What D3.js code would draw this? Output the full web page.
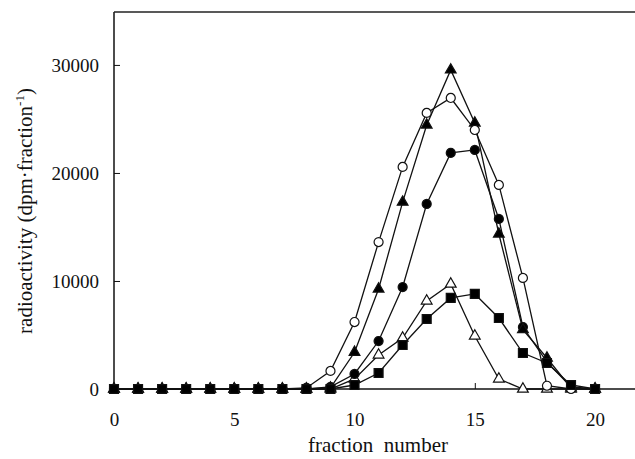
<!DOCTYPE html>
<html>
<head>
<meta charset="utf-8">
<script src="https://cdn.jsdelivr.net/npm/d3@7"></script>
<style>
  body { margin: 0; background: #fff; }
  svg { display: block; }
  text { font-family: "Liberation Serif", "Times New Roman", serif; fill: #111; }
</style>
</head>
<body>
<div id="chart"></div>
<script>
// fraction numbers 0..20
const fractions = d3.range(0, 21);

// series values (dpm per fraction)
const openCircle   = [0,0,0,0,0,0,0,0,100,1670,6200,13600,20560,25560,26940,23980,18890,10280,300,0,0];
const filledTri    = [0,0,0,0,0,0,0,0,0,100,3400,9260,17300,24440,29540,24630,14350,5500,2870,100,0];
const filledCircle = [0,0,0,0,0,0,0,0,0,200,1390,4440,9440,17130,21850,22130,15740,5740,2500,200,0];
const openTri      = [0,0,0,0,0,0,0,0,0,0,930,3150,4720,8150,9720,4910,930,0,0,0,0];
const filledSquare = [0,0,0,0,0,0,0,0,0,0,370,1480,4070,6480,8430,8800,6570,3330,2410,370,0];

const xTicks = [0, 5, 10, 15, 20];
const yTicks = [0, 10000, 20000, 30000];

// draw order: last one ends up on top
const series = [
  { values: openTri, symbol: d3.symbolTriangle, size: 50, fill: "#fff" },
  { values: filledCircle, symbol: d3.symbolCircle, size: 64, fill: "#000" },
  { values: filledTri, symbol: d3.symbolTriangle, size: 50, fill: "#000" },
  { values: openCircle, symbol: d3.symbolCircle, size: 64, fill: "#fff" },
  { values: filledSquare, symbol: d3.symbolSquare, size: 80, fill: "#000" }
];

const width = 635, height = 459;
const plotLeft = 114, plotTop = 12, plotBottom = 389, plotRight = 635;

const svg = d3.select("#chart").append("svg")
  .attr("width", width)
  .attr("height", height);

const x = d3.scaleLinear().domain([0, 21.66]).range([plotLeft, plotRight]);
const y = d3.scaleLinear().domain([0, 34900]).range([plotBottom, plotTop]);

// spines: left, top, bottom
svg.append("line").attr("x1", plotLeft).attr("x2", plotLeft).attr("y1", plotTop).attr("y2", plotBottom)
  .attr("stroke", "#111").attr("stroke-width", 1.5);
svg.append("line").attr("x1", plotLeft).attr("x2", plotRight).attr("y1", plotTop).attr("y2", plotTop)
  .attr("stroke", "#222").attr("stroke-width", 1.5);
svg.append("line").attr("x1", plotLeft).attr("x2", plotRight).attr("y1", plotBottom).attr("y2", plotBottom)
  .attr("stroke", "#111").attr("stroke-width", 1.5);

// y axis, ticks inward
const yAxis = d3.axisLeft(y).tickValues(yTicks).tickFormat(d3.format("d"))
  .tickSizeInner(-6).tickSizeOuter(0).tickPadding(15);
const gy = svg.append("g").attr("transform", `translate(${plotLeft},0)`).call(yAxis);
gy.attr("font-family", null).attr("font-size", null);
gy.select(".domain").remove();
gy.selectAll("line").attr("stroke", "#111");
gy.selectAll("text").style("font-size", "19px").attr("fill", "#111");

// x axis, ticks inward
const xAxis = d3.axisBottom(x).tickValues(xTicks).tickFormat(d3.format("d"))
  .tickSizeInner(-6).tickSizeOuter(0).tickPadding(24);
const gx = svg.append("g").attr("transform", `translate(0,${plotBottom})`).call(xAxis);
gx.attr("font-family", null).attr("font-size", null);
gx.select(".domain").remove();
gx.selectAll("line").attr("stroke", "#111");
gx.selectAll("text").style("font-size", "19px").attr("fill", "#111");

// axis titles
svg.append("text")
  .attr("x", 378).attr("y", 452)
  .attr("text-anchor", "middle")
  .style("font-size", "21px")
  .style("white-space", "pre")
  .attr("xml:space", "preserve")
  .text("fraction  number");

const yl = svg.append("text")
  .attr("transform", "translate(32,211) rotate(-90)")
  .attr("text-anchor", "middle")
  .style("font-size", "21px");
yl.append("tspan").text("radioactivity (dpm\u00b7fraction");
yl.append("tspan").attr("dy", -8).style("font-size", "13px").text("-1");
yl.append("tspan").attr("dy", 8).text(")");

// lines
const line = d3.line().x((d, i) => x(fractions[i])).y(d => y(d));

series.forEach(s => {
  svg.append("path")
    .datum(s.values)
    .attr("d", line)
    .attr("fill", "none")
    .attr("stroke", "#111")
    .attr("stroke-width", 1.3);
});

// markers
series.forEach(s => {
  svg.append("g").selectAll("path")
    .data(s.values)
    .join("path")
    .attr("transform", (d, i) => `translate(${x(fractions[i])},${y(d)})`)
    .attr("d", d3.symbol().type(s.symbol).size(s.size))
    .attr("fill", s.fill)
    .attr("stroke", "#111")
    .attr("stroke-width", 1.2);
});
</script>
</body>
</html>
